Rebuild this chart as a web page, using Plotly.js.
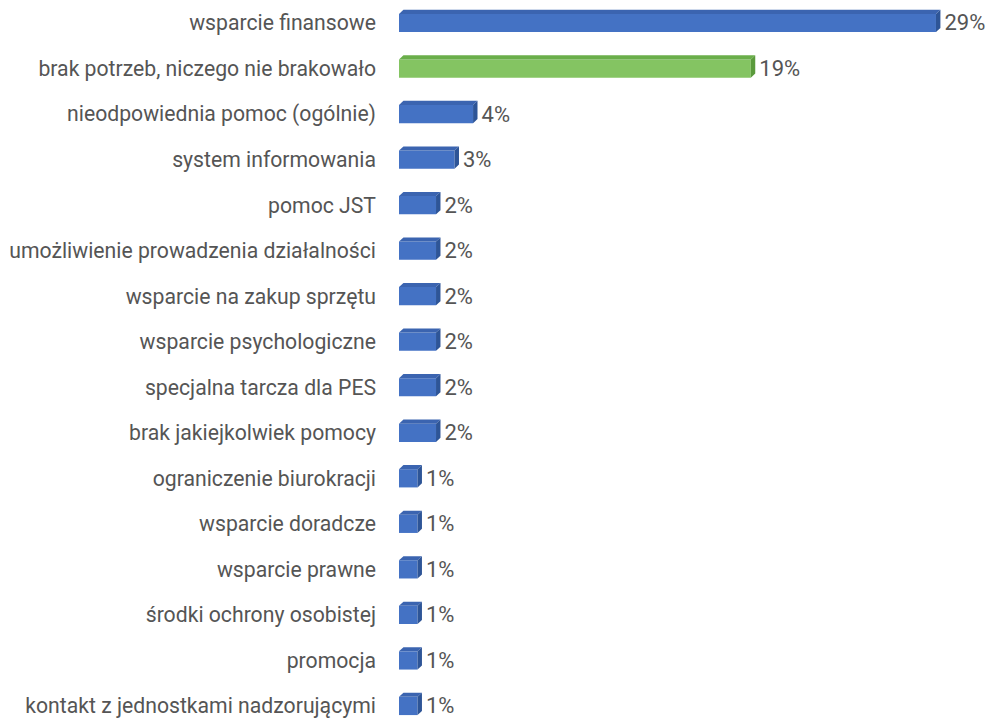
<!DOCTYPE html>
<html><head><meta charset="utf-8">
<script src="https://cdn.plot.ly/plotly-3.0.1.min.js"></script>
<style>html,body{margin:0;padding:0;background:#fff}#chart{width:994px;height:722px}</style>
</head><body><div id="chart"></div>
<script>
const categories = [
  "wsparcie finansowe",
  "brak potrzeb, niczego nie brakowało",
  "nieodpowiednia pomoc (ogólnie)",
  "system informowania",
  "pomoc JST",
  "umożliwienie prowadzenia działalności",
  "wsparcie na zakup sprzętu",
  "wsparcie psychologiczne",
  "specjalna tarcza dla PES",
  "brak jakiejkolwiek pomocy",
  "ograniczenie biurokracji",
  "wsparcie doradcze",
  "wsparcie prawne",
  "środki ochrony osobistej",
  "promocja",
  "kontakt z jednostkami nadzorującymi"
];
const values = [29, 19, 4, 3, 2, 2, 2, 2, 2, 2, 1, 1, 1, 1, 1, 1];
const highlight = "brak potrzeb, niczego nie brakowało";

const BLUE = {front:"#4472C4", top:"#3B64B0", side:"#2E5597"};
const GREEN = {front:"#84C462", top:"#6AAE4A", side:"#5A9A3C"};

const idx = categories.map((c,i)=>i);
const pal = categories.map(c => c===highlight ? GREEN : BLUE);
const W = 0.4, DX = 0.24, DY = 0.09;

const shapes = [];
values.forEach((v,i)=>{
  const yt = i - W/2, yb = i + W/2;
  shapes.push({type:'path', xref:'x', yref:'y', layer:'above', line:{width:0},
    fillcolor: pal[i].top,
    path:`M0,${yt} L${DX},${yt-DY} L${v+DX},${yt-DY} L${v},${yt} Z`});
  shapes.push({type:'path', xref:'x', yref:'y', layer:'above', line:{width:0},
    fillcolor: pal[i].side,
    path:`M${v},${yt} L${v+DX},${yt-DY} L${v+DX},${yb-DY} L${v},${yb} Z`});
});

const trace = {
  type:'bar', orientation:'h', x: values, y: idx, width: W,
  marker:{color: pal.map(p=>p.front), line:{width:0}},
  text: values.map(v=>' '+v+'%'), textposition:'outside', cliponaxis:false,
  constraintext:'none',
  textfont:{family:'Roboto, sans-serif', size:22, color:'#555555'},
  hoverinfo:'none'
};

const layout = {
  width:994, height:722, margin:{l:399, r:21, t:0, b:0},
  paper_bgcolor:'#fff', plot_bgcolor:'#fff', showlegend:false,
  xaxis:{range:[0,31], visible:false, fixedrange:true},
  yaxis:{range:[15.352,-0.505], tickvals: idx, ticktext: categories, showgrid:false,
    zeroline:false, showline:false, ticks:'', ticklabelstandoff:22,
    tickfont:{family:'Roboto, sans-serif', size:21.2, color:'#555555'}},
  shapes: shapes
};
Plotly.newPlot('chart',[trace],layout,{displayModeBar:false, staticPlot:true});
</script></body></html>
